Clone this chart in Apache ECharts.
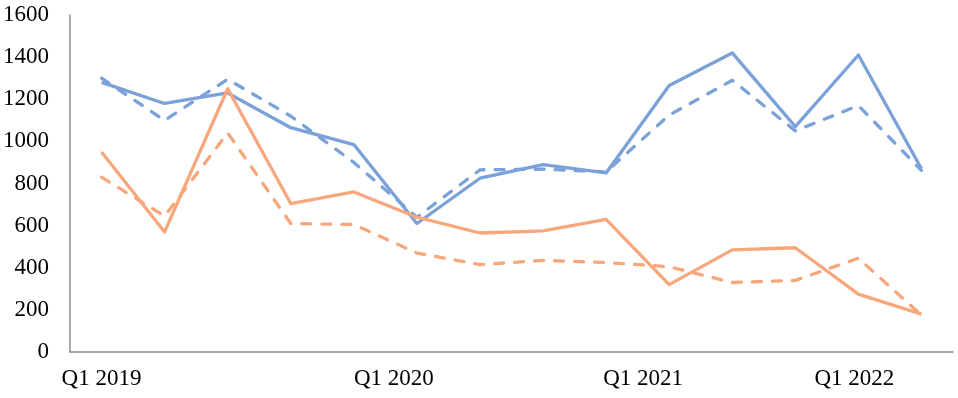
<!DOCTYPE html>
<html>
<head>
<meta charset="utf-8">
<script src="https://cdn.jsdelivr.net/npm/echarts@6/dist/echarts.min.js"></script>
<style>html,body{margin:0;padding:0;background:#fff}#c{width:958px;height:398px}</style>
</head>
<body>
<div id="c"></div>
<script>
const categories = ['Q1 2019','Q2 2019','Q3 2019','Q4 2019','Q1 2020','Q2 2020','Q3 2020','Q4 2020','Q1 2021','Q2 2021','Q3 2021','Q4 2021','Q1 2022','Q2 2022'];
const blueSolid  = [1280, 1180, 1230, 1065, 985, 610, 825, 890, 850, 1265, 1420, 1070, 1410, 870];
const blueDashed = [1300, 1100, 1295, 1120, 900, 640, 865, 868, 855, 1125, 1290, 1050, 1170, 862];
const orangeSolid  = [950, 570, 1250, 705, 760, 640, 565, 575, 630, 320, 485, 495, 275, 180];
const orangeDashed = [830, 645, 1040, 610, 605, 470, 415, 435, 425, 405, 330, 340, 445, 175];
const shownLabels = ['Q1 2019','Q1 2020','Q1 2021','Q1 2022'];
const yTicks = {min: 0, max: 1600, interval: 200};

const BLUE = '#7aa2d9', ORANGE = '#f7a77c';
const font = 'Liberation Serif, Times New Roman, serif';
const FS = 23;

function line(name, data, color, dashed) {
  return {
    name, type: 'line', data, symbol: 'none', silent: true,
    lineStyle: {color, width: 3.3, type: dashed ? [9, 11] : 'solid', cap: dashed ? 'round' : 'butt', join: 'round'},
    itemStyle: {color}
  };
}

const chart = echarts.init(document.getElementById('c'));
chart.setOption({
  animation: false,
  backgroundColor: '#fff',
  grid: {left: 70, right: 5, top: 15, bottom: 46, containLabel: false, outerBoundsMode: 'none'},
  xAxis: {
    type: 'category', data: categories, boundaryGap: true,
    axisLine: {lineStyle: {color: '#8c8c8c', width: 1.5}},
    axisTick: {show: false},
    axisLabel: {
      interval: (i, v) => shownLabels.indexOf(v) >= 0,
      margin: 15, fontFamily: font, fontSize: FS, color: '#000',
      formatter: v => {
        if (v === 'Q1 2020') return '{b|' + v + '}';
        if (v === 'Q1 2021') return '{c|' + v + '}';
        if (v === 'Q1 2022') return '{d|' + v + '}';
        return '{a|' + v + '}';
      },
      rich: {
        a: {fontFamily: font, fontSize: FS, color: '#000'},
        b: {fontFamily: font, fontSize: FS, color: '#000', padding: [0, 0, 0, 80]},
        c: {fontFamily: font, fontSize: FS, color: '#000', padding: [0, 0, 0, 74]},
        d: {fontFamily: font, fontSize: FS, color: '#000', padding: [0, 8, 0, 0]}
      }
    },
    splitLine: {show: false}
  },
  yAxis: {
    type: 'value', min: yTicks.min, max: yTicks.max, interval: yTicks.interval,
    axisLine: {show: true, lineStyle: {color: '#8c8c8c', width: 1.5}},
    axisTick: {show: false},
    splitLine: {show: false},
    axisLabel: {margin: 21, fontFamily: font, fontSize: FS, color: '#000', formatter: v => String(v)}
  },
  series: [
    line('A', blueSolid, BLUE, false),
    line('B', blueDashed, BLUE, true),
    line('C', orangeSolid, ORANGE, false),
    line('D', orangeDashed, ORANGE, true)
  ]
});
</script>
</body>
</html>
